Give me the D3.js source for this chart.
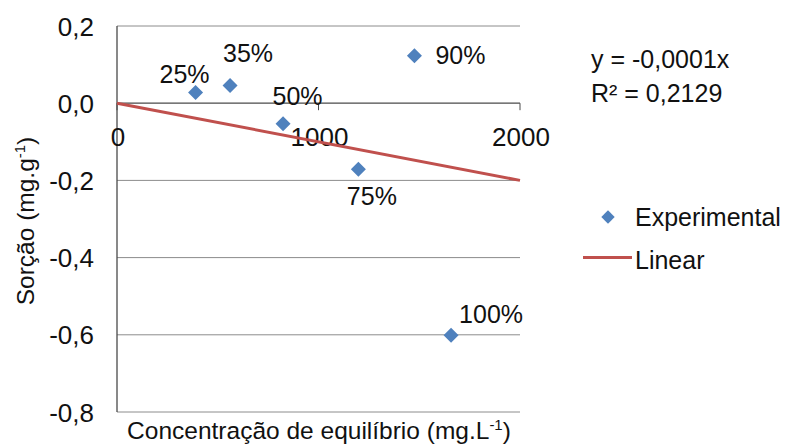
<!DOCTYPE html>
<html><head><meta charset="utf-8">
<script src="https://cdn.jsdelivr.net/npm/d3@7"></script>
<style>body{margin:0;background:#fff}svg{display:block;font-family:"Liberation Sans",Arial,sans-serif}</style>
</head><body><svg id="c" width="792" height="445"></svg>
<script>
const labels = ["25%","35%","50%","75%","90%","100%"];
const xVals = [390, 561, 824, 1198, 1476, 1658];
const yVals = [0.028, 0.046, -0.053, -0.171, 0.123, -0.601];
const trendX = [0, 2000];
const slope = -0.0001;
const yTicks = [0.2, 0.0, -0.2, -0.4, -0.6, -0.8];
const xTicks = [0, 1000, 2000];
const labelOffsets = [[-11,-9],[18,-23],[14.5,-19],[13.5,36],[46,8],[40,-12]];

const svg = d3.select("#c");
const L = 117, R = 520, T = 26, B = 412;
const x = d3.scaleLinear().domain([0,2000]).range([L,R]);
const y = d3.scaleLinear().domain([-0.8,0.2]).range([B,T]);
const fmt = v => d3.format(".1f")(v).replace(".",",").replace("−","-");
const ink = "#111";

// gridlines
svg.append("g").selectAll("line").data(yTicks).join("line")
  .attr("x1",L).attr("x2",R).attr("y1",d=>y(d)).attr("y2",d=>y(d))
  .attr("stroke",d=>d===0?"#4a4a4a":"#8c8c8c").attr("stroke-width",d=>d===0?1.3:1);
// left axis line
svg.append("line").attr("x1",L).attr("x2",L).attr("y1",T).attr("y2",B).attr("stroke","#4a4a4a").attr("stroke-width",1.3);
// x ticks on zero line
svg.append("g").selectAll("line").data(xTicks).join("line")
  .attr("x1",d=>x(d)).attr("x2",d=>x(d)).attr("y1",y(0)).attr("y2",y(0)+7).attr("stroke","#4a4a4a");
// y tick labels
svg.append("g").selectAll("text").data(yTicks).join("text")
  .attr("x",94).attr("y",d=>y(d)+9.5).attr("text-anchor","end").attr("font-size",26).attr("fill",ink)
  .text(d=>fmt(d));
// x tick labels
svg.append("g").selectAll("text").data(xTicks).join("text")
  .attr("x",d=>x(d)+1).attr("y",y(0)+43).attr("text-anchor","middle").attr("font-size",26).attr("fill",ink)
  .text(d=>d);
// trend line
svg.append("line").attr("x1",x(trendX[0])).attr("y1",y(slope*trendX[0]))
  .attr("x2",x(trendX[1])).attr("y2",y(slope*trendX[1]))
  .attr("stroke","#C0504D").attr("stroke-width",3);
// points
const diamond = (s) => `M0,${-s}L${s},0L0,${s}L${-s},0Z`;
svg.append("g").selectAll("path").data(xVals).join("path")
  .attr("transform",(d,i)=>`translate(${x(d)},${y(yVals[i])})`)
  .attr("d",diamond(7.5)).attr("fill","#4F81BD");
// point labels
svg.append("g").selectAll("text").data(labels).join("text")
  .attr("x",(d,i)=>x(xVals[i])+labelOffsets[i][0])
  .attr("y",(d,i)=>y(yVals[i])+labelOffsets[i][1])
  .attr("text-anchor","middle").attr("font-size",25).attr("fill",ink).text(d=>d);
// equation
svg.append("text").attr("x",591).attr("y",68).attr("font-size",25).attr("fill",ink).text("y = -0,0001x");
svg.append("text").attr("x",591).attr("y",101.5).attr("font-size",25).attr("fill",ink).text("R² = 0,2129");
// legend
svg.append("path").attr("transform","translate(608,217)").attr("d",diamond(6.7)).attr("fill","#4F81BD");
svg.append("text").attr("x",635).attr("y",225.5).attr("font-size",25).attr("fill",ink).text("Experimental");
svg.append("line").attr("x1",583).attr("x2",632).attr("y1",257.5).attr("y2",257.5).attr("stroke","#C0504D").attr("stroke-width",3);
svg.append("text").attr("x",635).attr("y",269).attr("font-size",25).attr("fill",ink).text("Linear");
// axis titles
const xt = svg.append("text").attr("x",319).attr("y",439).attr("text-anchor","middle").attr("font-size",24.5).attr("fill",ink);
xt.append("tspan").text("Concentração de equilíbrio (mg.L");
xt.append("tspan").attr("dy",-9).attr("font-size",15).text("-1");
xt.append("tspan").attr("dy",9).text(")");
const yt = svg.append("text").attr("transform","translate(34,221) rotate(-90)").attr("text-anchor","middle").attr("font-size",24.5).attr("fill",ink);
yt.append("tspan").text("Sorção (mg.g");
yt.append("tspan").attr("dy",-9).attr("font-size",15).text("-1");
yt.append("tspan").attr("dy",9).text(")");
</script></body></html>
